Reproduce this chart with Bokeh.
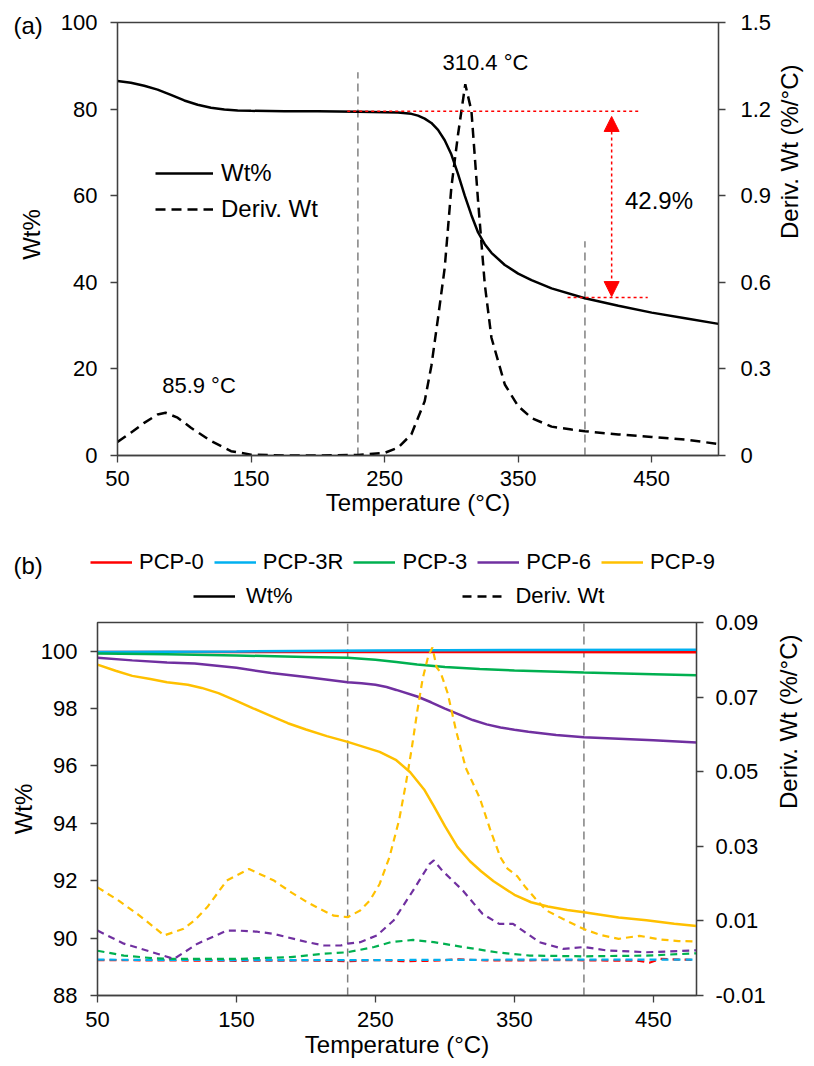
import math
from bokeh.plotting import figure
from bokeh.models import (Range1d, LinearAxis, FixedTicker, CustomJSTickFormatter,
                          Legend, LegendItem, Label, Arrow, NormalHead)
from bokeh.layouts import column, row
from bokeh.embed import file_html
from bokeh.resources import INLINE

FONT = "Liberation Sans"

# ---------------- (a) data ----------------
a_T_wt = [50, 60, 70, 80, 90, 100, 110, 120, 130, 140, 150, 175, 200, 230, 250, 260, 270, 275, 280,
          285, 290, 295, 300, 305, 310, 315, 320, 325, 330, 340, 350, 360, 375, 400, 425, 450, 475, 500]
a_wt = [86.5, 86.1, 85.4, 84.5, 83.3, 82.0, 81.0, 80.3, 79.9, 79.7, 79.6, 79.5, 79.5, 79.4, 79.3, 79.2,
        78.9, 78.5, 77.8, 76.8, 75.2, 72.8, 69.5, 65.0, 60.0, 55.5, 51.5, 48.8, 46.8, 44.0, 42.0, 40.5,
        38.6, 36.3, 34.6, 33.0, 31.7, 30.4]
a_T_d = [50, 60, 70, 80, 86, 95, 105, 120, 135, 150, 175, 200, 230, 250, 260, 270, 280, 285, 290, 295,
         300, 305, 310.4, 315, 320, 325, 330, 340, 350, 360, 375, 390, 400, 425, 450, 475, 500]
a_d = [0.047, 0.079, 0.113, 0.142, 0.148, 0.131, 0.096, 0.05, 0.015, 0.003, 0.0, 0.0, 0.002, 0.009,
       0.027, 0.073, 0.188, 0.31, 0.477, 0.65, 0.93, 1.113, 1.286, 1.194, 0.88, 0.593, 0.408, 0.246,
       0.171, 0.13, 0.1, 0.09, 0.084, 0.073, 0.064, 0.055, 0.04]
a_vlines_T = [230, 400]
a_vlines_top = [88.5, 49.5]
a_onset_wt = 79.5
a_end_wt = 36.5
a_loss_label = "42.9%"
a_peaks_T = [310.4, 85.9]

# ---------------- (b) data ----------------
b_names = ["PCP-0", "PCP-3R", "PCP-3", "PCP-6", "PCP-9"]
b_colors = ["#FF0000", "#00B0F0", "#00B050", "#7030A0", "#FFC000"]

T0 = [50, 150, 250, 350, 481]
w0 = [99.97, 99.97, 99.98, 99.97, 99.96]
T3R = [50, 150, 250, 350, 481]
w3R = [99.97, 99.99, 100.02, 100.04, 100.05]
T3 = [50, 100, 150, 200, 230, 250, 265, 280, 300, 325, 350, 400, 450, 481]
w3 = [99.92, 99.89, 99.85, 99.8, 99.77, 99.7, 99.62, 99.54, 99.45, 99.38, 99.33, 99.26, 99.2, 99.16]
T6 = [50, 75, 100, 120, 150, 175, 200, 230, 240, 250, 258, 265, 280, 290, 300, 310, 320, 330, 340,
      350, 360, 380, 400, 450, 481]
w6 = [99.77, 99.68, 99.61, 99.57, 99.42, 99.24, 99.1, 98.92, 98.88, 98.83, 98.75, 98.65, 98.42, 98.22,
      98.0, 97.8, 97.6, 97.45, 97.34, 97.26, 97.19, 97.08, 97.0, 96.9, 96.82]
T9 = [50, 63, 75, 88, 100, 115, 125, 137, 150, 162, 175, 187, 200, 215, 230, 253, 265, 275, 285, 292,
      300, 309, 318, 326, 335, 350, 362, 374, 388, 400, 425, 445, 465, 481]
w9 = [99.53, 99.32, 99.14, 99.03, 98.92, 98.83, 98.72, 98.54, 98.27, 98.01, 97.74, 97.49, 97.27,
      97.04, 96.84, 96.49, 96.2, 95.78, 95.18, 94.6, 93.9, 93.18, 92.68, 92.33, 91.98, 91.51, 91.25,
      91.1, 90.98, 90.9, 90.72, 90.62, 90.5, 90.42]

Td0 = [50, 100, 150, 200, 230, 250, 270, 290, 310, 330, 350, 380, 410, 440, 447, 455, 481]
d0 = [-0.0005, -0.0006, -0.0007, -0.0006, -0.0008, -0.0005, -0.0008, -0.0007, -0.0003, -0.0006,
      -0.0006, -0.0005, -0.0006, -0.0007, -0.0012, -0.0002, -0.0005]
Td3R = [50, 150, 250, 350, 450, 481]
d3R = [-0.0004, -0.0005, -0.0005, -0.0004, -0.0004, -0.0004]
Td3 = [50, 69, 90, 105, 150, 189, 213, 230, 249, 261, 277, 292, 313, 337, 361, 400, 445, 481]
d3 = [0.002, 0.0007, 0.0, -0.0002, -0.0002, 0.0003, 0.0012, 0.0016, 0.003, 0.0043, 0.0049, 0.0043,
      0.003, 0.0016, 0.0007, 0.0005, 0.0007, 0.0013]
Td6 = [50, 69, 93, 105, 122, 143, 151, 165, 177, 201, 213, 225, 230, 239, 251, 263, 277, 289, 292,
       298, 313, 327, 339, 349, 356, 368, 385, 400, 416, 445, 481]
d6 = [0.0074, 0.0039, 0.0012, -0.0002, 0.0039, 0.0074, 0.0074, 0.0071, 0.0065, 0.0043, 0.0034, 0.0034,
      0.0039, 0.0043, 0.0061, 0.0101, 0.0181, 0.0253, 0.0262, 0.0235, 0.0181, 0.0119, 0.0092, 0.0092,
      0.0074, 0.0043, 0.0025, 0.003, 0.0021, 0.0016, 0.0021]
Td9 = [50, 65, 80, 98, 105, 112, 120, 129, 143, 159, 177, 190, 201, 210, 220, 230, 239, 246, 253, 260,
       267, 272, 276, 280, 284, 288, 291, 294, 297, 302, 308, 315, 325, 333, 340, 345, 352, 358, 365,
       373, 385, 400, 412, 425, 440, 455, 468, 481]
d9 = [0.019, 0.0155, 0.0115, 0.0061, 0.007, 0.0079, 0.0102, 0.0137, 0.0208, 0.0239, 0.0208, 0.0175,
      0.015, 0.0132, 0.0114, 0.011, 0.0128, 0.0155, 0.0199, 0.027, 0.037, 0.047, 0.056, 0.066, 0.075,
      0.081, 0.0833, 0.078, 0.0765, 0.071, 0.061, 0.051, 0.043, 0.034, 0.027, 0.024, 0.022, 0.019,
      0.016, 0.0128, 0.0105, 0.0078, 0.0062, 0.0052, 0.006, 0.005, 0.0046, 0.0045]
b_vlines_T = [230, 400]

b_wt_T = [T0, T3R, T3, T6, T9]
b_wt = [w0, w3R, w3, w6, w9]
b_d_T = [Td0, Td3R, Td3, Td6, Td9]
b_d = [d0, d3R, d3, d6, d9]

AX = "#404040"
TICK_FS = "22px"
TITLE_FS = "24px"
W = 812
SA_W = 56          # width of the left strip holding "(a)" and the Wt% title
H1 = 523           # height of panel (a)
HL = 87            # height of the legend strip of panel (b)


def no_align(p):
    try:
        p.frame_align = False
    except Exception:
        pass


def style_axis(ax, standoff, title_standoff):
    ax.axis_line_color = AX
    ax.axis_line_width = 1.3
    ax.major_tick_line_color = AX
    ax.major_tick_line_width = 1.3
    ax.major_tick_out = 7
    ax.major_tick_in = 0
    ax.minor_tick_line_color = None
    ax.major_label_text_font = FONT
    ax.major_label_text_font_size = TICK_FS
    ax.major_label_text_color = "black"
    ax.axis_label_text_font = FONT
    ax.axis_label_text_font_size = TITLE_FS
    ax.axis_label_text_font_style = "normal"
    ax.axis_label_text_color = "black"
    ax.major_label_standoff = standoff
    ax.axis_label_standoff = title_standoff


def flip_right_title(ax):
    try:
        ax.axis_label_orientation = math.pi / 2
    except Exception:
        pass


def style_legend(lg, fs, gw, st, sp):
    lg.label_text_font = FONT
    lg.label_text_font_size = fs
    lg.label_text_color = "black"
    lg.glyph_width = gw
    lg.label_standoff = st
    lg.spacing = sp
    lg.padding = 0
    lg.margin = 0
    lg.border_line_color = None
    lg.background_fill_alpha = 0


def strip(width, height):
    s = figure(width=width, height=height, x_range=Range1d(0, width), y_range=Range1d(0, height),
               output_backend="svg", toolbar_location=None, x_axis_location=None,
               y_axis_location=None, min_border=0)
    s.grid.visible = False
    s.outline_line_color = None
    no_align(s)
    return s


# ================= figure (a) =================
sA = strip(SA_W, H1)
sA.add_layout(Label(x=13, y=H1 - 25, text="(a)", text_font=FONT, text_font_size="24px",
                    text_color="black", text_baseline="middle"))
sA.add_layout(Label(x=31, y=H1 - 234, text="Wt%", text_font=FONT, text_font_size=TITLE_FS,
                    text_color="black", text_baseline="middle", text_align="center",
                    angle=math.pi / 2))

p1 = figure(frame_width=601, frame_height=433, x_range=Range1d(50, 500), y_range=Range1d(0, 100),
            output_backend="svg", toolbar_location=None,
            min_border_left=117 - SA_W, min_border_right=96, min_border_top=22, min_border_bottom=68)
no_align(p1)
p1.extra_y_ranges = {"d": Range1d(0, 1.5)}
p1.grid.visible = False
p1.outline_line_color = AX
p1.outline_line_width = 1.3

p1.xaxis.ticker = FixedTicker(ticks=[50, 150, 250, 350, 450])
p1.yaxis.ticker = FixedTicker(ticks=[0, 20, 40, 60, 80, 100])
p1.xaxis.axis_label = "Temperature (°C)"
style_axis(p1.xaxis[0], 8, 0)
style_axis(p1.yaxis[0], 13, 0)
ax1r = LinearAxis(y_range_name="d", axis_label="Deriv. Wt (%/°C)",
                  ticker=FixedTicker(ticks=[0, 0.3, 0.6, 0.9, 1.2, 1.5]),
                  formatter=CustomJSTickFormatter(code="return tick.toFixed(1).replace(/\\.0$/, '');"))
style_axis(ax1r, 15, 15)
flip_right_title(ax1r)
p1.add_layout(ax1r, "right")

p1.segment(x0=a_vlines_T, y0=[0, 0], x1=a_vlines_T, y1=a_vlines_top,
           line_color="#808080", line_width=1.5, line_dash="8 5")
r_wt = p1.line(a_T_wt, a_wt, line_color="black", line_width=2.5)
r_d = p1.line(a_T_d, a_d, line_color="black", line_width=2.5, line_dash="10 6", y_range_name="d")

p1.segment(x0=[222, 387], y0=[a_onset_wt, a_end_wt], x1=[440, 447], y1=[a_onset_wt, a_end_wt],
           line_color="#FF0000", line_width=1.5, line_dash="3 3")
p1.add_layout(Arrow(start=NormalHead(size=15, fill_color="#FF0000", line_color="#FF0000"),
                    end=NormalHead(size=15, fill_color="#FF0000", line_color="#FF0000"),
                    x_start=420, y_start=a_end_wt + 0.2, x_end=420, y_end=a_onset_wt - 1.2,
                    line_color="#FF0000", line_width=1.5, line_dash="3 3"))
p1.add_layout(Label(x=430, y=58.8, text=a_loss_label, text_font=FONT, text_font_size="24px",
                    text_color="black", text_baseline="middle"))
p1.add_layout(Label(x=325.5, y=90.8, text=f"{a_peaks_T[0]} °C", text_font=FONT, text_color="black",
                    text_font_size="22px", text_align="center", text_baseline="middle"))
p1.add_layout(Label(x=111, y=16.1, text=f"{a_peaks_T[1]} °C", text_font=FONT, text_color="black",
                    text_font_size="22px", text_align="center", text_baseline="middle"))

leg1 = Legend(items=[LegendItem(label="Wt%", renderers=[r_wt]),
                     LegendItem(label="Deriv. Wt", renderers=[r_d])],
              location=(38, 232), orientation="vertical")
style_legend(leg1, "24px", 58, 8, 8)
p1.add_layout(leg1, "center")

# ================= legend strip of (b) =================
sL = strip(W, HL)
sL.add_layout(Label(x=13, y=HL - 42, text="(b)", text_font=FONT, text_font_size="24px",
                    text_color="black", text_baseline="middle"))
OFF_X = [-60, -50]     # legend-only renderers lie outside the strip's visible range
OFF_Y = [-60, -60]
strip_items = []
for name, col in zip(b_names, b_colors):
    r = sL.line(OFF_X, OFF_Y, line_color=col, line_width=2.5)
    strip_items.append(LegendItem(label=name, renderers=[r]))
k_solid = sL.line(OFF_X, OFF_Y, line_color="black", line_width=2.5)
k_dash = sL.line(OFF_X, OFF_Y, line_color="black", line_width=2.5, line_dash="9 6")
leg2 = Legend(items=strip_items, location=(90, 35), orientation="horizontal")
leg3 = Legend(items=[LegendItem(label="Wt%", renderers=[k_solid]),
                     LegendItem(label="Deriv. Wt", renderers=[k_dash])],
              location=(193, 1), orientation="horizontal")
style_legend(leg2, "22px", 42, 7, 10)
style_legend(leg3, "22px", 42, 11, 170)
sL.add_layout(leg2, "center")
sL.add_layout(leg3, "center")

# ================= figure (b) =================
p2 = figure(frame_width=599, frame_height=373, x_range=Range1d(50, 481), y_range=Range1d(88, 101),
            output_backend="svg", toolbar_location=None,
            min_border_left=97, min_border_right=118, min_border_top=12, min_border_bottom=71)
no_align(p2)
p2.extra_y_ranges = {"d": Range1d(-0.01, 0.09)}
p2.grid.visible = False
p2.outline_line_color = AX
p2.outline_line_width = 1.3

p2.xaxis.ticker = FixedTicker(ticks=[50, 150, 250, 350, 450])
p2.yaxis.ticker = FixedTicker(ticks=[88, 90, 92, 94, 96, 98, 100])
p2.xaxis.axis_label = "Temperature (°C)"
p2.yaxis.axis_label = "Wt%"
style_axis(p2.xaxis[0], 9, 1)
style_axis(p2.yaxis[0], 13, 1)
ax2r = LinearAxis(y_range_name="d", axis_label="Deriv. Wt (%/°C)",
                  ticker=FixedTicker(ticks=[-0.01, 0.01, 0.03, 0.05, 0.07, 0.09]),
                  formatter=CustomJSTickFormatter(code="return tick.toFixed(2);"))
style_axis(ax2r, 12, 20)
flip_right_title(ax2r)
p2.add_layout(ax2r, "right")

p2.segment(x0=b_vlines_T, y0=[88, 88], x1=b_vlines_T, y1=[101, 101],
           line_color="#808080", line_width=1.5, line_dash="8 5")
for col, tx, ty in zip(b_colors, b_wt_T, b_wt):
    p2.line(tx, ty, line_color=col, line_width=2.5)
for col, tx, ty in zip(b_colors, b_d_T, b_d):
    p2.line(tx, ty, line_color=col, line_width=2.2, line_dash="7 5", y_range_name="d")

layout = column(row(sA, p1, spacing=0), sL, p2, spacing=0)
open("out.html", "w").write(file_html(layout, INLINE))
